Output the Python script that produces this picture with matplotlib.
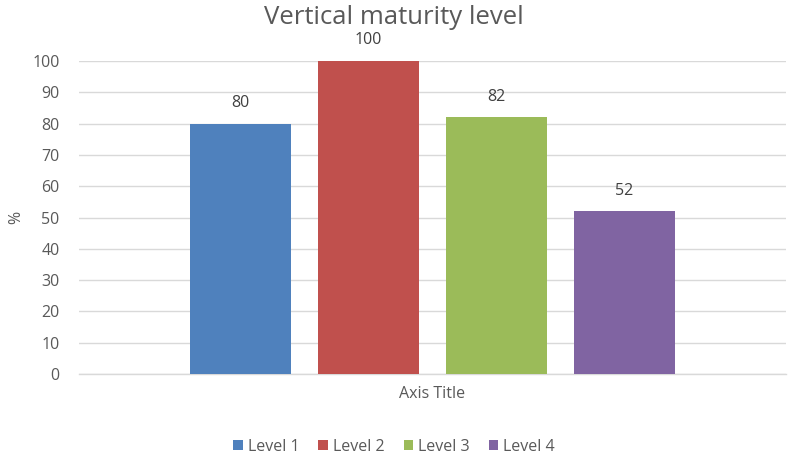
import matplotlib
matplotlib.use("Agg")
import matplotlib.pyplot as plt
from matplotlib.patches import Patch

series = ["Level 1", "Level 2", "Level 3", "Level 4"]
values = [80, 100, 82, 52]
colors = ["#4F81BD", "#C0504D", "#9BBB59", "#8064A2"]
yticks = [0, 10, 20, 30, 40, 50, 60, 70, 80, 90, 100]

plt.rcParams["font.family"] = ["Open Sans", "DejaVu Sans"]
text_color = "#595959"

fig = plt.figure(figsize=(7.88, 4.58), dpi=100)
ax = fig.add_axes([79 / 788, 1 - 374 / 458, 707 / 788, 313 / 458])

step = 128 / 707
width = 101 / 707
offsets = [(i - 1.5) * step for i in range(len(series))]
for off, v, c, name in zip(offsets, values, colors, series):
    ax.bar(off, v, width=width, color=c, label=name, zorder=3)
    ax.text(off, v + 4, str(v), ha="center", va="bottom",
            fontsize=11.5, color="#404040")

ax.set_xlim(-0.5, 0.5)
ax.set_ylim(0, 100)
ax.set_yticks(yticks)
ax.set_yticklabels([str(t) for t in yticks], fontsize=11.5, color=text_color)
ax.set_xticks([])
ax.tick_params(axis="y", length=0, pad=14)
ax.grid(axis="y", color="#D9D9D9", linewidth=1, zorder=0)
for s in ["top", "right", "left"]:
    ax.spines[s].set_visible(False)
ax.spines["bottom"].set_color("#D9D9D9")
ax.spines["bottom"].set_linewidth(1)

ax.set_ylabel("%", fontsize=11.5, color=text_color)
ax.yaxis.set_label_coords((24 - 79) / 707, 0.5)
ax.set_xlabel("Axis Title", fontsize=11.5, color=text_color, labelpad=9)

fig.text(394 / 788, 1 - 17 / 458, "Vertical maturity level", ha="center",
         va="center", fontsize=18.5, color=text_color)

handles = [Patch(facecolor=c, label=n) for c, n in zip(colors, series)]
fig.legend(handles=handles, loc="center", bbox_to_anchor=(394 / 788, 1 - 447 / 458),
           ncol=4, frameon=False, fontsize=11.5, labelcolor=text_color,
           handlelength=0.6, handleheight=0.6, handletextpad=0.3, columnspacing=1.2)

fig.savefig("out.png", dpi=100)
